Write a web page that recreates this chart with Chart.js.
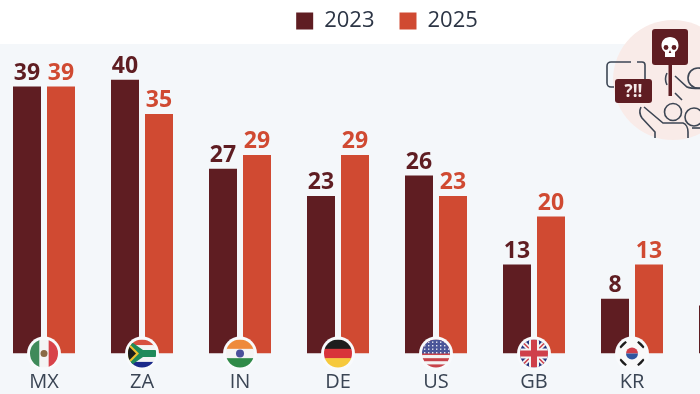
<!DOCTYPE html>
<html>
<head>
<meta charset="utf-8">
<script src="https://cdn.jsdelivr.net/npm/chart.js@4"></script>
<style>
  html, body { margin: 0; padding: 0; width: 700px; height: 394px; overflow: hidden; background: #fff; }
  #bg { position: absolute; left: 0; top: 44px; width: 700px; height: 350px; background: #f4f7fa; }
  #wrap { position: absolute; left: -5px; top: 0; width: 784px; height: 394px; }
  #icon { position: absolute; left: 600px; top: 15px; }
</style>
</head>
<body>
<div id="bg"></div>
<div id="wrap"><canvas id="c" width="784" height="394"></canvas></div>
<svg id="icon" width="100" height="125" viewBox="600 15 100 125">
  <circle cx="673" cy="80" r="60" fill="#f9ebe8"/>
  <path d="M631 62h-20a4 4 0 0 0-4 4v17a4 4 0 0 0 4 4h3M637 62h5a3 3 0 0 1 3 3v14" fill="none" stroke="#3d4654" stroke-width="1.600"/>
  <rect x="615" y="79" width="37" height="24" rx="3" fill="#5f1d22"/>
  <text x="633.500" y="97" font-family="Open Sans" font-weight="700" font-size="17" fill="#f7ecea" text-anchor="middle">?!!</text>
  <rect x="668.500" y="60" width="3.500" height="36" fill="#5f1d22"/>
  <rect x="652" y="29" width="36" height="36" rx="3" fill="#5f1d22"/>
  <path d="M670 37c-5 0-8.500 3.500-8.500 8.500 0 3 1.200 5 3.500 6.500v5h10v-5c2.300-1.500 3.500-3.500 3.500-6.500 0-5-3.500-8.500-8.500-8.500z" fill="#fff"/>
  <circle cx="666" cy="47.500" r="2.400" fill="#5f1d22"/><circle cx="674" cy="47.500" r="2.400" fill="#5f1d22"/>
  <path d="M670 50l-1.300 3h2.600z" fill="#5f1d22"/>
  <g fill="none" stroke="#3d4654" stroke-width="1.600">
    <path d="M641 107c-2 4-1 8 1 11l13 14v6"/>
    <path d="M644 107l19 16h20c3 1 5 5 5 9v6"/>
    <circle cx="673" cy="112" r="8.500"/>
    <circle cx="694" cy="117" r="9"/>
    <circle cx="698" cy="78" r="10"/>
    <path d="M675 76l12 11c3 1.500 8 1.500 13 1.500M675 93l7 7M667 73c-2 4-2 8 0 12"/>
    <path d="M692 128h8"/>
  </g>
</svg>
<script>
const categories = ['MX', 'ZA', 'IN', 'DE', 'US', 'GB', 'KR', 'NL'];
const seriesNames = ['2023', '2025'];
const values2023 = [39, 40, 27, 23, 26, 13, 8, 7];
const values2025 = [39, 35, 29, 29, 23, 20, 13, 12];
const dark = '#5f1d22';
const red = '#d04a32';

function stripes(ctx, x, y, r, colors, vertical) {
  colors.forEach((c, i) => {
    ctx.fillStyle = c;
    const s = 2 * r / colors.length;
    if (vertical) ctx.fillRect(x - r + i * s, y - r, s + 0.5, 2 * r);
    else ctx.fillRect(x - r, y - r + i * s, 2 * r, s + 0.5);
  });
}

const flags = {
  MX(ctx, x, y, r) {
    stripes(ctx, x, y, r, ['#3f8a5a', '#f4f4f4', '#d8434a'], true);
    ctx.fillStyle = '#8a6a45';
    ctx.beginPath(); ctx.arc(x, y, 3.5, 0, 7); ctx.fill();
  },
  ZA(ctx, x, y, r) {
    stripes(ctx, x, y, r, ['#d8503f', '#f4f4f4', '#1f8a5a', '#f4f4f4', '#1b2a8a'], false);
    ctx.fillStyle = '#1f8a5a';
    ctx.fillRect(x - r, y - 3.5, 2 * r, 7);
    ctx.beginPath(); ctx.moveTo(x - r, y - r); ctx.lineTo(x + 1, y - 3.5); ctx.lineTo(x - r, y - 3.5); ctx.fill();
    ctx.beginPath(); ctx.moveTo(x - r, y + r); ctx.lineTo(x + 1, y + 3.5); ctx.lineTo(x - r, y + 3.5); ctx.fill();
    ctx.fillStyle = '#f0c030';
    ctx.beginPath(); ctx.moveTo(x - r, y - 11); ctx.lineTo(x - 3, y); ctx.lineTo(x - r, y + 11); ctx.fill();
    ctx.fillStyle = '#1d1d1d';
    ctx.beginPath(); ctx.moveTo(x - r, y - 8); ctx.lineTo(x - 6, y); ctx.lineTo(x - r, y + 8); ctx.fill();
  },
  IN(ctx, x, y, r) {
    stripes(ctx, x, y, r, ['#ee8a3c', '#f4f4f4', '#2f8a48'], false);
    ctx.fillStyle = '#4a4f9a';
    ctx.beginPath(); ctx.arc(x, y, 4, 0, 7); ctx.fill();
  },
  DE(ctx, x, y, r) { stripes(ctx, x, y, r, ['#1d1d1d', '#d8343a', '#f6c93c'], false); },
  US(ctx, x, y, r) {
    stripes(ctx, x, y, r, ['#c8434a', '#f4f4f4', '#c8434a', '#f4f4f4', '#c8434a', '#f4f4f4', '#c8434a', '#f4f4f4', '#c8434a'], false);
    ctx.fillStyle = '#4a5598';
    ctx.fillRect(x - r, y - r, 2 * r, r);
    ctx.fillStyle = '#e4e6f0';
    for (let a = -12; a <= 12; a += 4) for (let b = -12; b < -1; b += 3.5) ctx.fillRect(x + a, y + b, 1.4, 1.4);
  },
  GB(ctx, x, y, r) {
    ctx.fillStyle = '#27347e';
    ctx.fillRect(x - r, y - r, 2 * r, 2 * r);
    ctx.strokeStyle = '#f4f4f4';
    ctx.lineWidth = 5;
    ctx.beginPath(); ctx.moveTo(x - r, y - r); ctx.lineTo(x + r, y + r); ctx.moveTo(x + r, y - r); ctx.lineTo(x - r, y + r); ctx.stroke();
    ctx.strokeStyle = '#cf3f4a';
    ctx.lineWidth = 1.5;
    ctx.beginPath(); ctx.moveTo(x - r, y - r); ctx.lineTo(x + r, y + r); ctx.moveTo(x + r, y - r); ctx.lineTo(x - r, y + r); ctx.stroke();
    ctx.fillStyle = '#f4f4f4';
    ctx.fillRect(x - r, y - 5, 2 * r, 10); ctx.fillRect(x - 5, y - r, 10, 2 * r);
    ctx.fillStyle = '#cf3f4a';
    ctx.fillRect(x - r, y - 3, 2 * r, 6); ctx.fillRect(x - 3, y - r, 6, 2 * r);
  },
  KR(ctx, x, y, r) {
    ctx.fillStyle = '#f9f9f9';
    ctx.fillRect(x - r, y - r, 2 * r, 2 * r);
    ctx.fillStyle = '#cf3f4a';
    ctx.beginPath(); ctx.arc(x, y, 6, Math.PI, 0); ctx.fill();
    ctx.fillStyle = '#2f56a0';
    ctx.beginPath(); ctx.arc(x, y, 6, 0, Math.PI); ctx.fill();
    ctx.strokeStyle = '#1d1d1d';
    ctx.lineWidth = 2.5;
    [[-1, -1], [1, -1], [-1, 1], [1, 1]].forEach(([a, b]) => {
      ctx.beginPath();
      ctx.moveTo(x + a * 12, y + b * 6); ctx.lineTo(x + a * 6, y + b * 12);
      ctx.stroke();
    });
  }
};

// value labels above the bars
const barLabels = {
  id: 'barLabels',
  afterDatasetsDraw(chart) {
    const ctx = chart.ctx;
    ctx.save();
    ctx.font = '700 23px "Open Sans"';
    ctx.textAlign = 'center';
    ctx.textBaseline = 'alphabetic';
    chart.data.datasets.forEach((ds, i) => {
      ctx.fillStyle = ds.backgroundColor;
      chart.getDatasetMeta(i).data.forEach((bar, j) => {
        ctx.fillText(ds.data[j], bar.x, bar.y - 7);
      });
    });
    ctx.restore();
  }
};

// round flags sitting on the baseline
const flagMarks = {
  id: 'flagMarks',
  afterDatasetsDraw(chart) {
    const ctx = chart.ctx;
    const xs = chart.scales.x;
    const y = chart.scales.y.getPixelForValue(0);
    categories.forEach((code, i) => {
      const x = xs.getPixelForTick(i);
      ctx.save();
      ctx.fillStyle = '#f8fafc';
      ctx.beginPath(); ctx.arc(x, y, 17, 0, 7); ctx.fill();
      ctx.beginPath(); ctx.arc(x, y, 14, 0, 7); ctx.clip();
      if (flags[code]) flags[code](ctx, x, y, 14);
      ctx.restore();
    });
  }
};

new Chart(document.getElementById('c'), {
  type: 'bar',
  data: {
    labels: categories,
    datasets: [
      { label: seriesNames[0], data: values2023, backgroundColor: dark, borderWidth: 0, categoryPercentage: 68 / 98, barPercentage: 28 / 34 },
      { label: seriesNames[1], data: values2025, backgroundColor: red, borderWidth: 0, categoryPercentage: 68 / 98, barPercentage: 28 / 34 }
    ]
  },
  options: {
    responsive: false,
    animation: false,
    layout: { padding: { top: -15, bottom: -9.5 } },
    plugins: {
      tooltip: { enabled: false },
      legend: {
        position: 'top',
        labels: {
          boxWidth: 17, boxHeight: 17, padding: 25,
          color: '#2c3545',
          font: { family: 'Open Sans', size: 22 }
        }
      }
    },
    scales: {
      x: {
        grid: { display: false },
        border: { display: false },
        ticks: { color: '#3a4554', font: { family: 'Open Sans', size: 20 }, padding: 9, maxRotation: 0, autoSkip: false }
      },
      y: { display: false, min: 0, max: 45.5 }
    }
  },
  plugins: [flagMarks, barLabels]
});
</script>
</body>
</html>
